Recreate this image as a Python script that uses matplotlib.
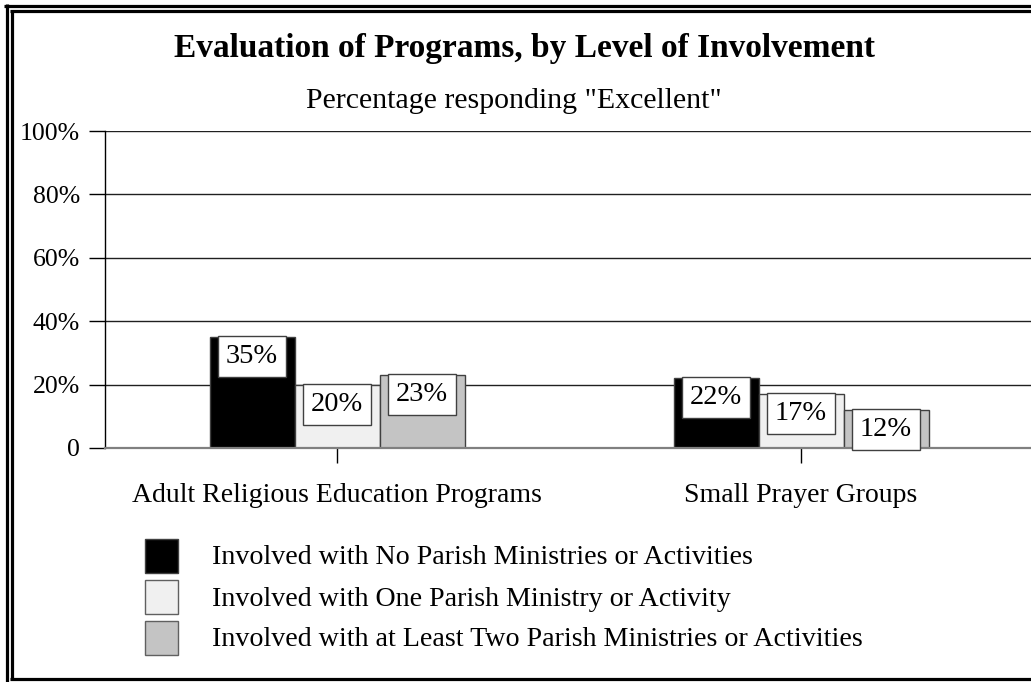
import matplotlib
matplotlib.use("Agg")
from matplotlib import pyplot as plt
from matplotlib.lines import Line2D
from matplotlib.patches import Rectangle
import numpy as np

plt.rcParams["font.family"] = ["Liberation Serif", "DejaVu Serif"]

categories = ["Adult Religious Education Programs", "Small Prayer Groups"]
series_names = [
    "Involved with No Parish Ministries or Activities",
    "Involved with One Parish Ministry or Activity",
    "Involved with at Least Two Parish Ministries or Activities",
]
no_ministry = [35, 22]
one_ministry = [20, 17]
two_ministries = [23, 12]
yticks = [0, 20, 40, 60, 80, 100]
ytick_labels = ["0", "20%", "40%", "60%", "80%", "100%"]

colors = ["#000000", "#f0f0f0", "#c4c4c4"]
edges = ["#404040", "#606060", "#606060"]

W, H = 1031, 682
fig = plt.figure(figsize=(W / 100, H / 100), dpi=100)
ax = fig.add_axes([105 / W, 1 - 448 / H, 928 / W, 317 / H])

x = np.arange(len(categories))
bw = 85 / 464
fs = 20

for i, (vals, c) in enumerate(zip([no_ministry, one_ministry, two_ministries], colors)):
    bars = ax.bar(x + (i - 1) * bw, vals, bw, color=c, edgecolor="#404040",
                  linewidth=1, zorder=3)
    for b, v in zip(bars, vals):
        ax.annotate("{}%".format(v), (b.get_x() + b.get_width() / 2, v),
                    xytext=(0, -7), textcoords="offset pixels",
                    ha="center", va="top", fontsize=20.5, zorder=5,
                    bbox=dict(boxstyle="square,pad=0.28", fc="white",
                              ec="#404040", lw=1))

ax.set_xlim(-0.5, 1.5)
ax.set_ylim(0, 100)
ax.set_yticks(yticks)
ax.set_yticklabels(ytick_labels, fontsize=18.5)
ax.set_xticks(x)
ax.set_xticklabels(categories, fontsize=fs)
ax.tick_params(axis="y", direction="out", length=11.5, width=1, pad=6.5, color="black")
ax.tick_params(axis="x", direction="out", length=10.8, width=1, pad=14.5, color="black")
ax.grid(axis="y", color="#202020", linewidth=1)
ax.set_axisbelow(True)
for s in ["top", "right"]:
    ax.spines[s].set_visible(False)
ax.spines["left"].set_color("black")
ax.spines["left"].set_linewidth(1)
ax.spines["bottom"].set_color("#808080")
ax.spines["bottom"].set_linewidth(1.6)
ax.spines["bottom"].set_zorder(4)

fig.text(524 / W, 1 - 48 / H, "Evaluation of Programs, by Level of Involvement",
         ha="center", va="center", fontsize=24, fontweight="bold")
fig.text(514 / W, 1 - 101 / H, 'Percentage responding "Excellent"',
         ha="center", va="center", fontsize=21.5)

# legend
key_tops = [539, 580, 621]
for name, c, e, top in zip(series_names, colors, edges, key_tops):
    fig.add_artist(Rectangle((145 / W, 1 - (top + 34) / H), 33 / W, 34 / H,
                             transform=fig.transFigure, fc=c, ec=e, lw=1))
    fig.text(212 / W, 1 - (top + 19) / H, name, ha="left", va="center", fontsize=20.2)

# double frame
def fline(xs, ys, lw):
    fig.add_artist(Line2D([v / W for v in xs], [1 - v / H for v in ys],
                          transform=fig.transFigure, color="black", lw=lw,
                          solid_capstyle="butt"))

fline([6.5, 6.5], [4, 700], 2.3)
fline([4, 1100], [5.5, 5.5], 2.3)
fline([11.5, 11.5], [10, 679.5], 2.3)
fline([10, 1100], [10.5, 10.5], 2.3)
fline([10, 1100], [678.5, 678.5], 2.3)

fig.savefig("out.png", dpi=100)
